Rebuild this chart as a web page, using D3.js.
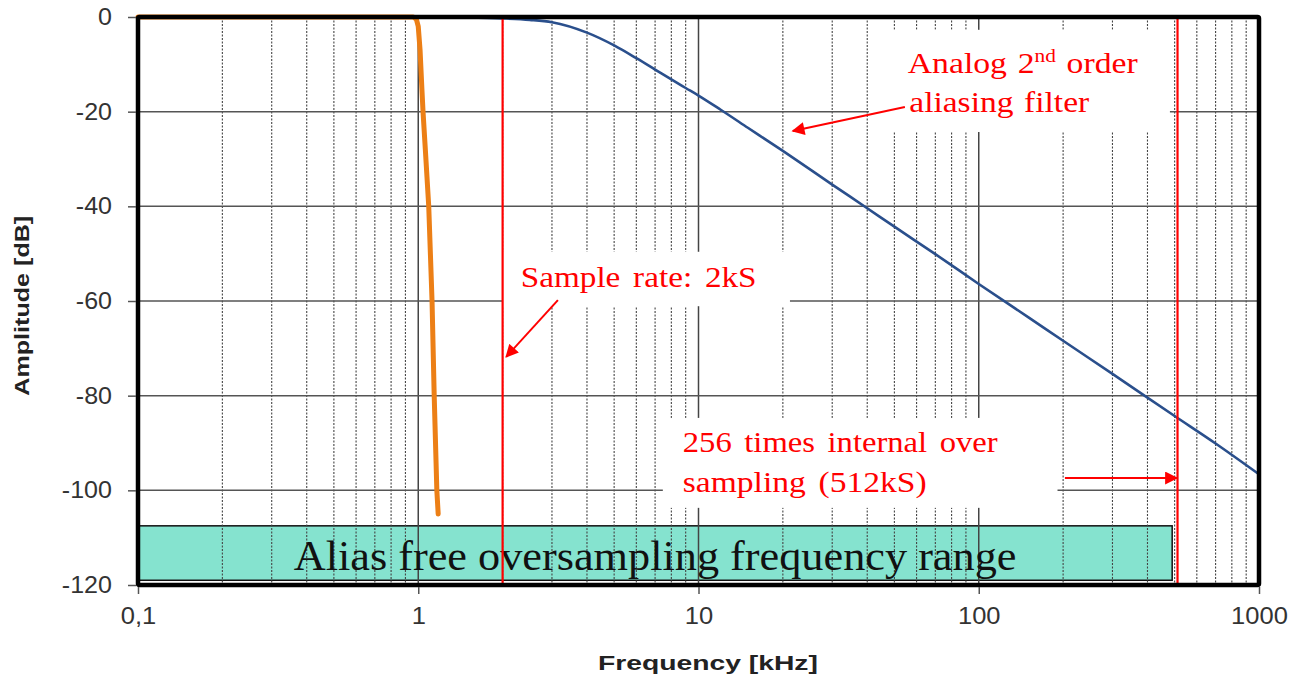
<!DOCTYPE html>
<html>
<head>
<meta charset="utf-8">
<script src="https://cdn.jsdelivr.net/npm/d3@7"></script>
<style>
  html, body { margin: 0; padding: 0; background: #fff; }
  svg { display: block; }
</style>
</head>
<body>
<svg id="chart" width="1301" height="686"></svg>
<script>
// ---------- data ----------
const xTickValues = [0.1, 1, 10, 100, 1000];
const xTickLabels = ["0,1", "1", "10", "100", "1000"];
const yTickValues = [0, -20, -40, -60, -80, -100, -120];

// Analog 2nd order aliasing filter (blue)
const analogFreq = [0.1, 0.5, 1, 1.5, 2, 2.5, 3, 4, 5, 6, 7, 8, 9, 10, 12, 15, 20, 30, 40, 50, 70, 100, 150, 200, 300, 500, 700, 1000];
const analogDb   = [0, 0, 0, -0.1, -0.3, -0.6, -1.1, -3.3, -6.0, -8.7, -11.1, -13.2, -15.0, -16.6, -19.6, -23.4, -28.3, -35.4, -40.4, -44.3, -50.1, -56.4, -63.4, -68.4, -75.4, -84.3, -90.1, -96.6];

// Digital filter (orange)
const digitalFreq = [0.1, 0.5, 0.96, 0.985, 1.0, 1.015, 1.03, 1.04, 1.06, 1.09, 1.12, 1.14, 1.165, 1.178];
const digitalDb   = [0, 0, 0, -0.5, -2, -7, -15, -20, -28, -40, -60, -80, -100, -105];

// markers
const sampleRate = 2;       // kS
const overSampleRate = 512; // kS

// annotations (data coordinates: [freq, dB])
const aliasBand = { f0: 0.1, f1: 490, db0: -107.5, db1: -119 };
const aliasText = "Alias free oversampling frequency range";
const analogLines = ["Analog 2", "aliasing filter"];
const sampleText = "Sample rate: 2kS";
const overLines = ["256 times internal over", "sampling (512kS)"];

// white label backgrounds [f0, f1, db0, db1]
const labelBoxes = [
  [40.6, 481, -2.7, -24.3],
  [2.0, 21.2, -49.6, -61.1],
  [7.46, 191, -84.7, -103.7]
];
// arrows [fromF, fromDb, toF, toDb]
const arrows = [
  [54.5, -19.0, 21.7, -24.1],
  [3.15, -59.8, 2.06, -71.8],
  [203, -97.4, 509, -97.4]
];

// ---------- chart ----------
const svg = d3.select("#chart");
const x = d3.scaleLog().domain([0.1, 1000]).range([138, 1259]);
const y = d3.scaleLinear().domain([0, -120]).range([17, 585]);

// stretch a text element horizontally to a target width about an anchor x
function fitWidth(sel, target, anchor) {
  sel.each(function () {
    const bb = this.getBBox();
    const s = target / bb.width;
    const ax = anchor === "start" ? bb.x : anchor === "end" ? bb.x + bb.width : bb.x + bb.width / 2;
    this.setAttribute("transform", `translate(${ax},0) scale(${s},1) translate(${-ax},0)`);
  });
}

// teal band
svg.append("rect")
  .attr("x", x(aliasBand.f0)).attr("y", y(aliasBand.db0))
  .attr("width", x(aliasBand.f1) - x(aliasBand.f0))
  .attr("height", y(aliasBand.db1) - y(aliasBand.db0))
  .attr("fill", "#85e3cf").attr("stroke", "#111").attr("stroke-width", 1.5);

// grid: minor verticals
const minor = [];
[0.1, 1, 10, 100].forEach(d => { for (let m = 2; m <= 9; m++) minor.push(d * m); });
const grid = svg.append("g");
grid.selectAll("line.minor").data(minor).enter().append("line")
  .attr("x1", d => x(d)).attr("x2", d => x(d))
  .attr("y1", y(0)).attr("y2", y(-120))
  .attr("stroke", "#444").attr("stroke-width", 1.1).attr("stroke-dasharray", "2,1.5");
grid.selectAll("line.major").data([1, 10, 100]).enter().append("line")
  .attr("x1", d => x(d)).attr("x2", d => x(d))
  .attr("y1", y(0)).attr("y2", y(-120))
  .attr("stroke", "#444").attr("stroke-width", 1.5);
grid.selectAll("line.h").data(yTickValues.slice(1, -1)).enter().append("line")
  .attr("x1", x(0.1)).attr("x2", x(1000))
  .attr("y1", d => y(d)).attr("y2", d => y(d))
  .attr("stroke", "#555").attr("stroke-width", 1.5);

// white label backgrounds
svg.selectAll("rect.lbl").data(labelBoxes).enter().append("rect")
  .attr("x", d => x(d[0])).attr("y", d => y(d[2]))
  .attr("width", d => x(d[1]) - x(d[0]))
  .attr("height", d => y(d[3]) - y(d[2]))
  .attr("fill", "#fff");

const serif = "'Liberation Serif', 'Times New Roman', serif";
const sans = "'Liberation Sans', Arial, sans-serif";

// alias text
svg.append("text")
  .attr("x", (x(aliasBand.f0) + x(aliasBand.f1)) / 2)
  .attr("y", y(-116.8))
  .attr("text-anchor", "middle")
  .attr("font-family", serif)
  .attr("font-size", 42).attr("fill", "#111")
  .text(aliasText)
  .call(fitWidth, 723, "middle");

// curves
const line = d3.line().x(d => x(d[0])).y(d => y(d[1])).curve(d3.curveMonotoneX);
svg.append("path")
  .datum(analogFreq.map((f, i) => [f, analogDb[i]]))
  .attr("d", line).attr("fill", "none")
  .attr("stroke", "#2a4f8c").attr("stroke-width", 2.6);
svg.append("path")
  .datum(digitalFreq.map((f, i) => [f, digitalDb[i]]))
  .attr("d", d3.line().x(d => x(d[0])).y(d => y(d[1])))
  .attr("fill", "none")
  .attr("stroke", "#ec7f16").attr("stroke-width", 5)
  .attr("stroke-linejoin", "round").attr("stroke-linecap", "round");

// red vertical markers
svg.selectAll("line.mark").data([sampleRate, overSampleRate]).enter().append("line")
  .attr("x1", d => x(d)).attr("x2", d => x(d))
  .attr("y1", y(0)).attr("y2", y(-120))
  .attr("stroke", "#f00").attr("stroke-width", 2.2);

// arrows
const defs = svg.append("defs");
defs.append("marker").attr("id", "arr")
  .attr("viewBox", "0 0 10 10").attr("refX", 9).attr("refY", 5)
  .attr("markerWidth", 7).attr("markerHeight", 6.5)
  .attr("markerUnits", "strokeWidth")
  .attr("orient", "auto")
  .append("path").attr("d", "M0,0 L10,5 L0,10 z").attr("fill", "#f00");
svg.selectAll("line.arrow").data(arrows).enter().append("line")
  .attr("x1", d => x(d[0])).attr("y1", d => y(d[1]))
  .attr("x2", d => x(d[2])).attr("y2", d => y(d[3]))
  .attr("stroke", "#f00").attr("stroke-width", 2)
  .attr("marker-end", "url(#arr)");

// red annotation texts
function redText(str, f, db, target, ws) {
  return svg.append("text").attr("font-family", serif).attr("font-size", 30).attr("fill", "#f00")
    .attr("x", x(f)).attr("y", y(db)).attr("word-spacing", ws).text(str)
    .call(fitWidth, target, "start");
}
const t1 = svg.append("text").attr("font-family", serif).attr("font-size", 30).attr("fill", "#f00")
  .attr("x", x(55.8)).attr("y", y(-11.8)).attr("word-spacing", 2);
t1.append("tspan").text(analogLines[0]);
t1.append("tspan").attr("font-size", 19).attr("dy", -11).text("nd");
t1.append("tspan").attr("dy", 11).text(" order");
t1.call(fitWidth, 230, "start");
redText(analogLines[1], 56.5, -20.1, 180, 2);
redText(sampleText, 2.32, -57, 236, 4);
redText(overLines[0], 8.79, -91.9, 315, 4);
redText(overLines[1], 8.79, -100.4, 244, 4);

// frame
svg.append("rect")
  .attr("x", x(0.1)).attr("y", y(0))
  .attr("width", x(1000) - x(0.1)).attr("height", y(-120) - y(0))
  .attr("fill", "none").attr("stroke", "#000").attr("stroke-width", 4.5)
  .attr("rx", 1.5);

// axes
const yAxis = svg.append("g").attr("transform", `translate(${x(0.1) - 2},0)`)
  .call(d3.axisLeft(y).tickValues(yTickValues).tickSize(8).tickPadding(16).tickFormat(d => d));
const xAxis = svg.append("g").attr("transform", `translate(0,${y(-120) + 2})`)
  .call(d3.axisBottom(x).tickValues(xTickValues).tickSize(7).tickPadding(14)
    .tickFormat((d, i) => xTickLabels[i]));
[yAxis, xAxis].forEach(a => {
  a.select(".domain").remove();
  a.selectAll(".tick line").attr("stroke", "#555").attr("stroke-width", 1.5);
  a.selectAll(".tick text").attr("font-family", sans)
    .attr("font-size", 23).attr("fill", "#333");
});
xAxis.selectAll(".tick text").each(function () {
  const w = this.getComputedTextLength();
  d3.select(this).call(fitWidth, w * 1.11, "middle");
});
yAxis.selectAll(".tick text").each(function () {
  const w = this.getComputedTextLength();
  d3.select(this).call(fitWidth, w * 1.09, "end");
});

// axis titles
svg.append("g").attr("transform", `translate(29,${y(-61)}) rotate(-90)`)
  .append("text")
  .attr("text-anchor", "middle")
  .attr("font-family", sans)
  .attr("font-weight", "bold").attr("font-size", 21).attr("fill", "#222")
  .text("Amplitude [dB]")
  .call(fitWidth, 180, "middle");
svg.append("text")
  .attr("x", 708).attr("y", 670)
  .attr("text-anchor", "middle")
  .attr("font-family", sans)
  .attr("font-weight", "bold").attr("font-size", 21).attr("fill", "#222")
  .text("Frequency [kHz]")
  .call(fitWidth, 220, "middle");
</script>
</body>
</html>
